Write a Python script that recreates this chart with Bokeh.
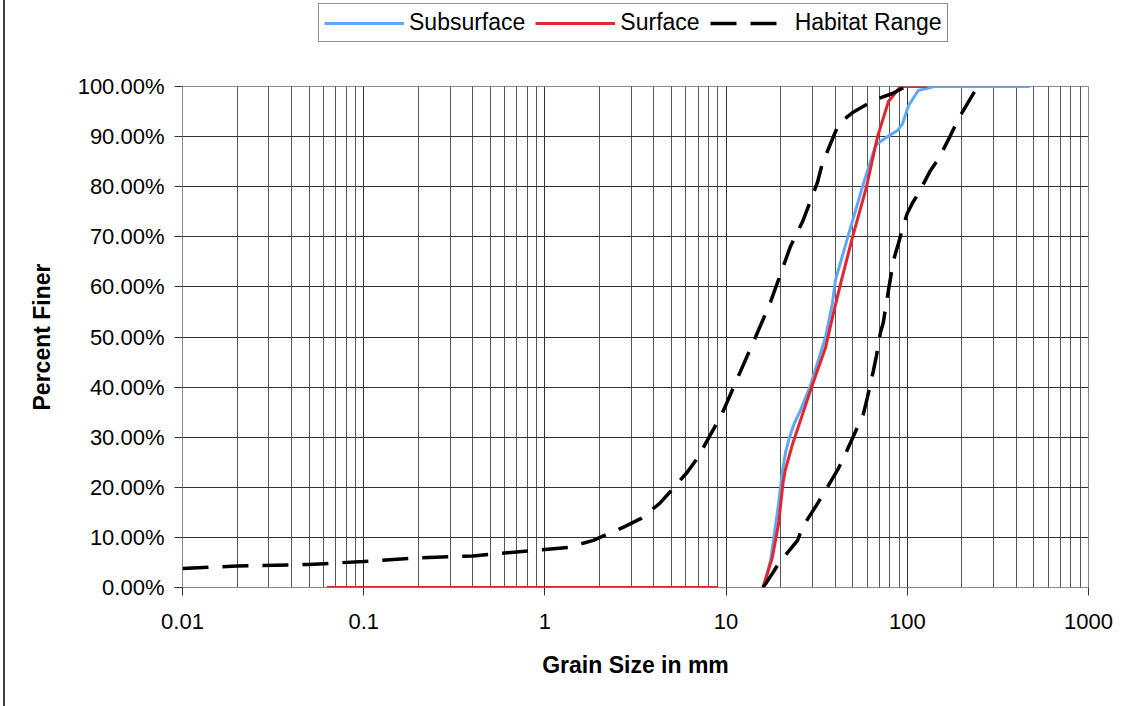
from bokeh.plotting import figure
from bokeh.models import FixedTicker, Legend, LegendItem
from bokeh.layouts import column
from bokeh.embed import file_html
from bokeh.resources import INLINE
import numpy as np

# ---- data (grain size in mm, percent finer) ----
sub_x = [16, 17.6, 19.5, 20.5, 21.3, 22.4, 23.8, 25.7, 29.2, 35.4, 38.6, 40.1, 47.0, 56.6, 66.7, 71.1, 78.0, 88.3, 94.2, 101.6, 115, 140, 475]
sub_y = [0, 5.4, 16.8, 23.4, 27.0, 30.0, 32.8, 35.3, 40.3, 50.0, 56.7, 61.3, 70.0, 80.0, 88.2, 89.0, 90.0, 91.2, 92.6, 96.2, 99.2, 100, 100]

surf_x = [0.0625, 9.0, np.nan, 16, 18.0, 19.5, 20.6, 21.2, 23.3, 29.2, 35.4, 39.1, 43.3, 49.9, 59.6, 68.5, 78.7, 91.8, 129]
surf_y = [0, 0, np.nan, 0, 6, 12.8, 20.8, 23.4, 28.7, 39.3, 47.9, 54.7, 61.3, 70.0, 80.0, 90.0, 97.0, 100, 100]

hab_fine_x = [0.01, 0.02, 0.05, 0.1, 0.2, 0.4, 1.0, 1.34, 1.85, 2.7, 3.4, 4.3, 5.0, 6.1, 7.0, 9.5, 11.6,
              14.5, 17.6, 22.6, 26.4, 31.9, 33.9, 39.1, 42.0, 49.9, 66.7, 82.8, 97.6]
hab_fine_y = [3.8, 4.3, 4.6, 5.2, 5.9, 6.3, 7.6, 8.0, 9.4, 12, 13.8, 16.8, 19.4, 23, 26, 34.7, 41.9,
              49.9, 57, 68, 73, 80.8, 84.5, 90.0, 92.6, 94.8, 97.4, 98.6, 100]

hab_coarse_x = [16, 18.0, 19.5, 24.8, 26.4, 32.0, 35.4, 41.7, 45.6, 57.3, 60.2, 65, 67.6, 71.1, 73.7,
                78.7, 83.9, 89.4, 95, 100, 107, 115, 134, 149, 173, 192, 244]
hab_coarse_y = [0, 2.8, 4.8, 9.4, 12, 16.8, 19.4, 23.8, 26.7, 34.7, 37.9, 43.3, 46.3, 50.9, 52.9,
                59.3, 65.3, 68.7, 72.2, 74.7, 76.8, 78.6, 83.2, 85.6, 90.2, 93.6, 100]

x_major = [0.01, 0.1, 1, 10, 100, 1000]
x_labels = ["0.01", "0.1", "1", "10", "100", "1000"]
y_major = [0, 10, 20, 30, 40, 50, 60, 70, 80, 90, 100]
y_labels = ["0.00%", "10.00%", "20.00%", "30.00%", "40.00%", "50.00%", "60.00%", "70.00%", "80.00%", "90.00%", "100.00%"]
series_names = ["Subsurface", "Surface", "Habitat Range"]

FONT = "Liberation Sans"
BLUE = "#5FA8F5"
RED = "#E3262D"
DASH = "26 14"
BORDER = {"box-shadow": "inset 3px 0 0 0 #ffffff, inset 5px 0 0 0 #404040"}

# ---------------- main chart ----------------
p = figure(frame_width=906, frame_height=501, x_axis_type="log",
           x_range=(0.01, 1000), y_range=(0, 100), title=None,
           output_backend="svg", toolbar_location=None,
           min_border_left=182, min_border_right=46, min_border_top=42, min_border_bottom=119,
           background_fill_color="white", border_fill_color="white", border_fill_alpha=0)
p.styles = BORDER

minor = [m * d for d in [0.01, 0.1, 1, 10, 100] for m in range(2, 10)]
p.xaxis.ticker = FixedTicker(ticks=x_major, minor_ticks=minor)
p.yaxis.ticker = FixedTicker(ticks=y_major)
p.xaxis.major_label_overrides = {v: s for v, s in zip(x_major, x_labels)}
p.yaxis.major_label_overrides = {v: s for v, s in zip(y_major, y_labels)}

for ax in (p.xaxis, p.yaxis):
    ax.major_label_text_font = FONT
    ax.major_label_text_font_size = "22px"
    ax.major_label_text_color = "black"
    ax.axis_label_text_font = FONT
    ax.axis_label_text_font_size = "23px"
    ax.axis_label_text_font_style = "bold"
    ax.axis_label_text_color = "black"
    ax.axis_line_color = None
    ax.major_tick_line_color = "#333333"
    ax.major_tick_out = 8
    ax.major_tick_in = 0
    ax.minor_tick_out = 0
    ax.minor_tick_in = 0

p.xaxis.axis_label = "Grain Size in mm"
p.yaxis.axis_label = "Percent Finer"
p.yaxis.major_label_standoff = 10
p.yaxis.axis_label_standoff = 20
p.xaxis.major_label_standoff = 18
p.xaxis.axis_label_standoff = 20

p.xgrid.grid_line_color = "#333333"
p.xgrid.minor_grid_line_color = "#555555"
p.ygrid.grid_line_color = "#333333"
p.outline_line_color = "#8a8a8a"
p.outline_line_width = 1

p.line(sub_x, sub_y, line_color=BLUE, line_width=3)
p.line(surf_x, surf_y, line_color=RED, line_width=3)
p.line(hab_fine_x, hab_fine_y, line_color="black", line_width=3.5, line_dash=DASH)
p.line(hab_coarse_x, hab_coarse_y, line_color="black", line_width=3.5, line_dash=DASH)

# ---------------- legend strip (same series, drawn out of this strip's view) ----------------
lf = figure(width=1134, height=44, x_range=(-1, 0), y_range=(-1, 0), title=None,
            output_backend="svg", toolbar_location=None,
            min_border_left=0, min_border_right=0, min_border_top=0, min_border_bottom=0,
            border_fill_alpha=0, background_fill_alpha=0)
lf.axis.visible = False
lf.grid.visible = False
lf.outline_line_color = None
lf.styles = BORDER
g1 = lf.line(sub_x, sub_y, line_color=BLUE, line_width=3)
g2 = lf.line(surf_x, surf_y, line_color=RED, line_width=3)
g3 = lf.line(hab_fine_x, hab_fine_y, line_color="black", line_width=3.5, line_dash=DASH)

legend = Legend(items=[LegendItem(label=series_names[0], renderers=[g1]),
                       LegendItem(label=series_names[1], renderers=[g2]),
                       LegendItem(label=series_names[2], renderers=[g3])],
                orientation="horizontal", location=(136, 2),
                glyph_width=80, glyph_height=20, label_standoff=5, spacing=10,
                padding=5, margin=0,
                label_text_font=FONT, label_text_font_size="23px", label_text_color="black",
                border_line_color="#222222", border_line_width=1,
                background_fill_color="white", background_fill_alpha=1)
lf.add_layout(legend, "center")

layout = column(lf, p, spacing=0)
open("out.html", "w").write(file_html(layout, INLINE))
